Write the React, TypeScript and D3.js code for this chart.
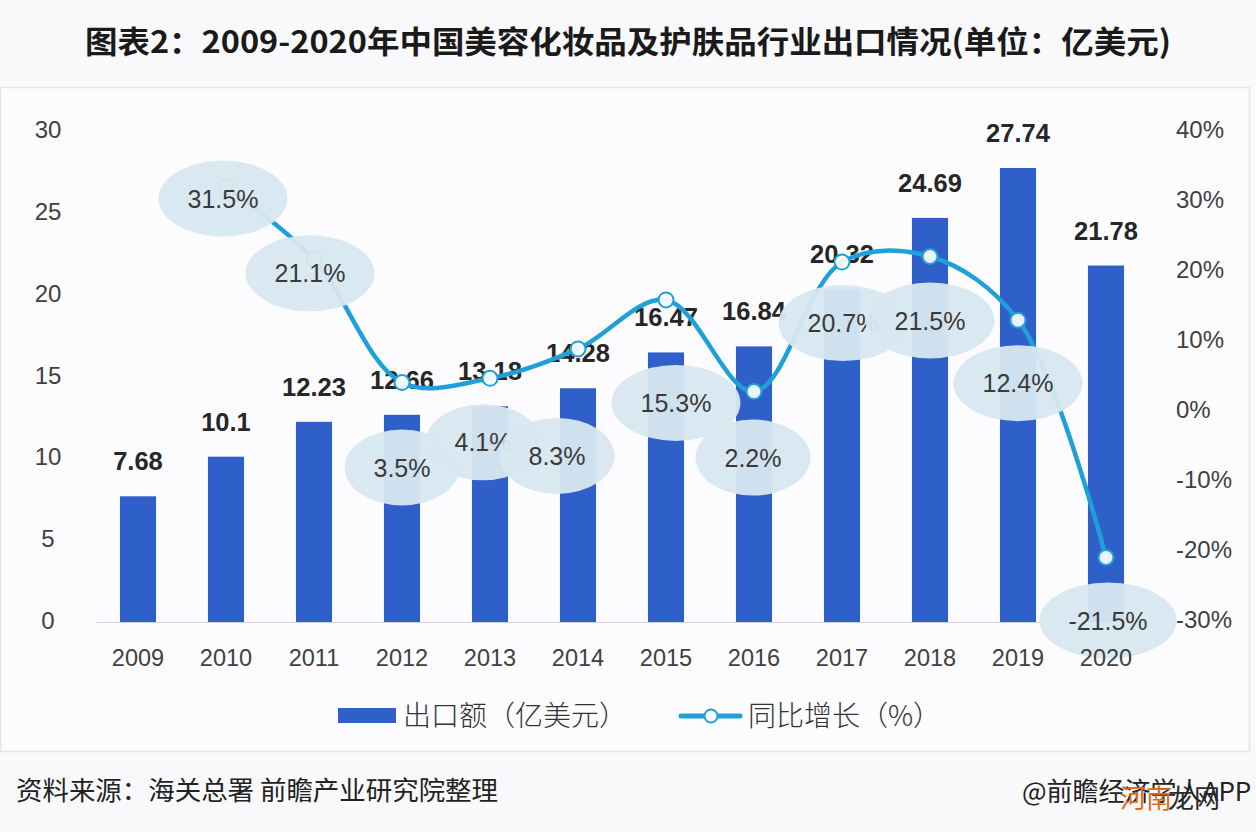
import React from 'react';
import * as d3 from 'd3';

const years = ['2009', '2010', '2011', '2012', '2013', '2014', '2015', '2016', '2017', '2018', '2019', '2020'];
const exportValues = [7.68, 10.1, 12.23, 12.66, 13.18, 14.28, 16.47, 16.84, 20.32, 24.69, 27.74, 21.78];
const growthRates: (number | null)[] = [null, 31.5, 21.1, 3.5, 4.1, 8.3, 15.3, 2.2, 20.7, 21.5, 12.4, -21.5];
const leftTicks = [0, 5, 10, 15, 20, 25, 30];
const rightTicks = [-30, -20, -10, 0, 10, 20, 30, 40];
// layout: offsets of the growth callouts from their points
const labelOffsets: [number, number][] = [
  [0, 0], [-3, 12], [-4, 14], [0, 85], [-7, 64], [-21, 107], [10, 103], [-1, 66], [1, 61], [0, 64], [0, 63], [2, 63],
];

const TITLE = '图表2：2009-2020年中国美容化妆品及护肤品行业出口情况(单位：亿美元)';
const LEGEND_BAR = '出口额（亿美元）';
const LEGEND_LINE = '同比增长（%）';
const SOURCE = '资料来源：海关总署 前瞻产业研究院整理';
const CREDIT = '@前瞻经济学人APP';

const BAR = '#2F5FC9';
const LINE = '#1FA0D8';
const BUBBLE = '#D8E8F0';
const NUM_FONT = '"Liberation Sans", Arial, sans-serif';
const CJK_FONT = '"Noto Sans CJK SC", "Noto Sans", sans-serif';

function textW(s: string, fs: number) {
  let w = 0;
  for (const c of s) {
    if (c === '.') w += 0.278;
    else if (c === '%') w += 0.889;
    else if (c === '-') w += 0.333;
    else w += 0.556;
  }
  return w * fs;
}

export default function App() {
  const W = 1256;
  const H = 832;
  const x = d3.scaleBand<string>().domain(years).range([94, 1150]).paddingInner(0.59).paddingOuter(0.295);
  const yL = d3.scaleLinear().domain([0, 30]).range([622, 131]);
  const yR = d3.scaleLinear().domain([-30, 40]).range([617, 127]);
  const cx = (y: string) => (x(y) as number) + x.bandwidth() / 2;

  const pts: [number, number][] = [];
  growthRates.forEach((g, i) => {
    if (g !== null) pts.push([cx(years[i]), yR(g)]);
  });
  const linePath = d3.line().curve(d3.curveCatmullRom.alpha(0.5))(pts) as string;

  return (
    <svg width={W} height={H} style={{ position: 'absolute', left: 0, top: 0 }} xmlns="http://www.w3.org/2000/svg">
      <rect x={0} y={0} width={W} height={H} fill="#F9F9FB" />
      <rect x={0.5} y={87.5} width={1249} height={664} fill="#FCFCFE" stroke="#E4E4EA" strokeWidth={1.5} />
      <text
        x={628}
        y={53}
        textAnchor="middle"
        fontFamily={CJK_FONT}
        fontWeight={700}
        fontSize={31}
        fill="#1A1A1A"
        textLength={1086}
        lengthAdjust="spacingAndGlyphs"
      >
        {TITLE}
      </text>

      {/* left axis */}
      {leftTicks.map((t) => (
        <text key={'l' + t} x={48} y={yL(t) + 7} textAnchor="middle" fontFamily={NUM_FONT} fontSize={24} fill="#404040">
          {t}
        </text>
      ))}
      {/* right axis */}
      {rightTicks.map((t) => (
        <text key={'r' + t} x={1176} y={yR(t) + 11} textAnchor="start" fontFamily={NUM_FONT} fontSize={24} fill="#404040">
          {t}%
        </text>
      ))}

      {/* baseline */}
      <line x1={97} x2={1150} y1={yL(0) + 0.5} y2={yL(0) + 0.5} stroke="#D2D4DC" strokeWidth={1.2} />

      {/* bars */}
      {exportValues.map((v, i) => (
        <rect key={'b' + i} x={x(years[i])} y={yL(v)} width={x.bandwidth()} height={yL(0) - yL(v)} fill={BAR} />
      ))}

      {/* bar value labels */}
      {exportValues.map((v, i) => (
        <text
          key={'bv' + i}
          x={cx(years[i])}
          y={yL(v) - 26}
          textAnchor="middle"
          fontFamily={NUM_FONT}
          fontWeight={700}
          fontSize={25.5}
          fill="#262626"
        >
          {v}
        </text>
      ))}

      {/* growth line */}
      <path d={linePath} fill="none" stroke={LINE} strokeWidth={4.5} strokeLinejoin="round" strokeLinecap="round" />
      {pts.map((p, i) => (
        <circle key={'m' + i} cx={p[0]} cy={p[1]} r={7.5} fill="#FFFFFF" fillOpacity={0.9} stroke={LINE} strokeWidth={2} />
      ))}

      {/* callouts */}
      {growthRates.map((g, i) => {
        if (g === null) return null;
        const label = `${g}%`;
        const px = cx(years[i]) + labelOffsets[i][0];
        const py = yR(g) + labelOffsets[i][1];
        const rx = textW(label, 25) / 2 + 29;
        return (
          <g key={'c' + i}>
            <ellipse cx={px} cy={py} rx={rx} ry={38} fill={BUBBLE} fillOpacity={0.95} />
            <text x={px} y={py + 9} textAnchor="middle" fontFamily={NUM_FONT} fontSize={25} fill="#3A3A3A">
              {label}
            </text>
          </g>
        );
      })}

      {/* x labels */}
      {years.map((yr) => (
        <text key={'x' + yr} x={cx(yr)} y={666} textAnchor="middle" fontFamily={NUM_FONT} fontSize={23.5} fill="#404040">
          {yr}
        </text>
      ))}

      {/* legend */}
      <rect x={338} y={708} width={58} height={15} fill={BAR} />
      <text x={403} y={726} fontFamily={CJK_FONT} fontWeight={300} fontSize={28} fill="#333333">
        {LEGEND_BAR}
      </text>
      <line x1={681} x2={740} y1={716} y2={716} stroke={LINE} strokeWidth={5} strokeLinecap="round" />
      <circle cx={711} cy={716} r={6.5} fill="#FFFFFF" stroke={LINE} strokeWidth={2} />
      <text x={748} y={726} fontFamily={CJK_FONT} fontWeight={300} fontSize={28} fill="#333333">
        {LEGEND_LINE}
      </text>

      {/* footer */}
      <text x={16} y={800} fontFamily={CJK_FONT} fontSize={26} fill="#222222" textLength={482} lengthAdjust="spacingAndGlyphs">
        {SOURCE}
      </text>
      <text x={1022} y={801} fontFamily={CJK_FONT} fontSize={26} fill="#222222">
        {CREDIT}
      </text>
      <text x={1120} y={808} fontFamily={CJK_FONT} fontSize={26} fill="#E06A1E">
        河南
      </text>
      <text x={1168} y={808} fontFamily={CJK_FONT} fontSize={26} fill="#2A2A2A">
        龙网
      </text>
    </svg>
  );
}
